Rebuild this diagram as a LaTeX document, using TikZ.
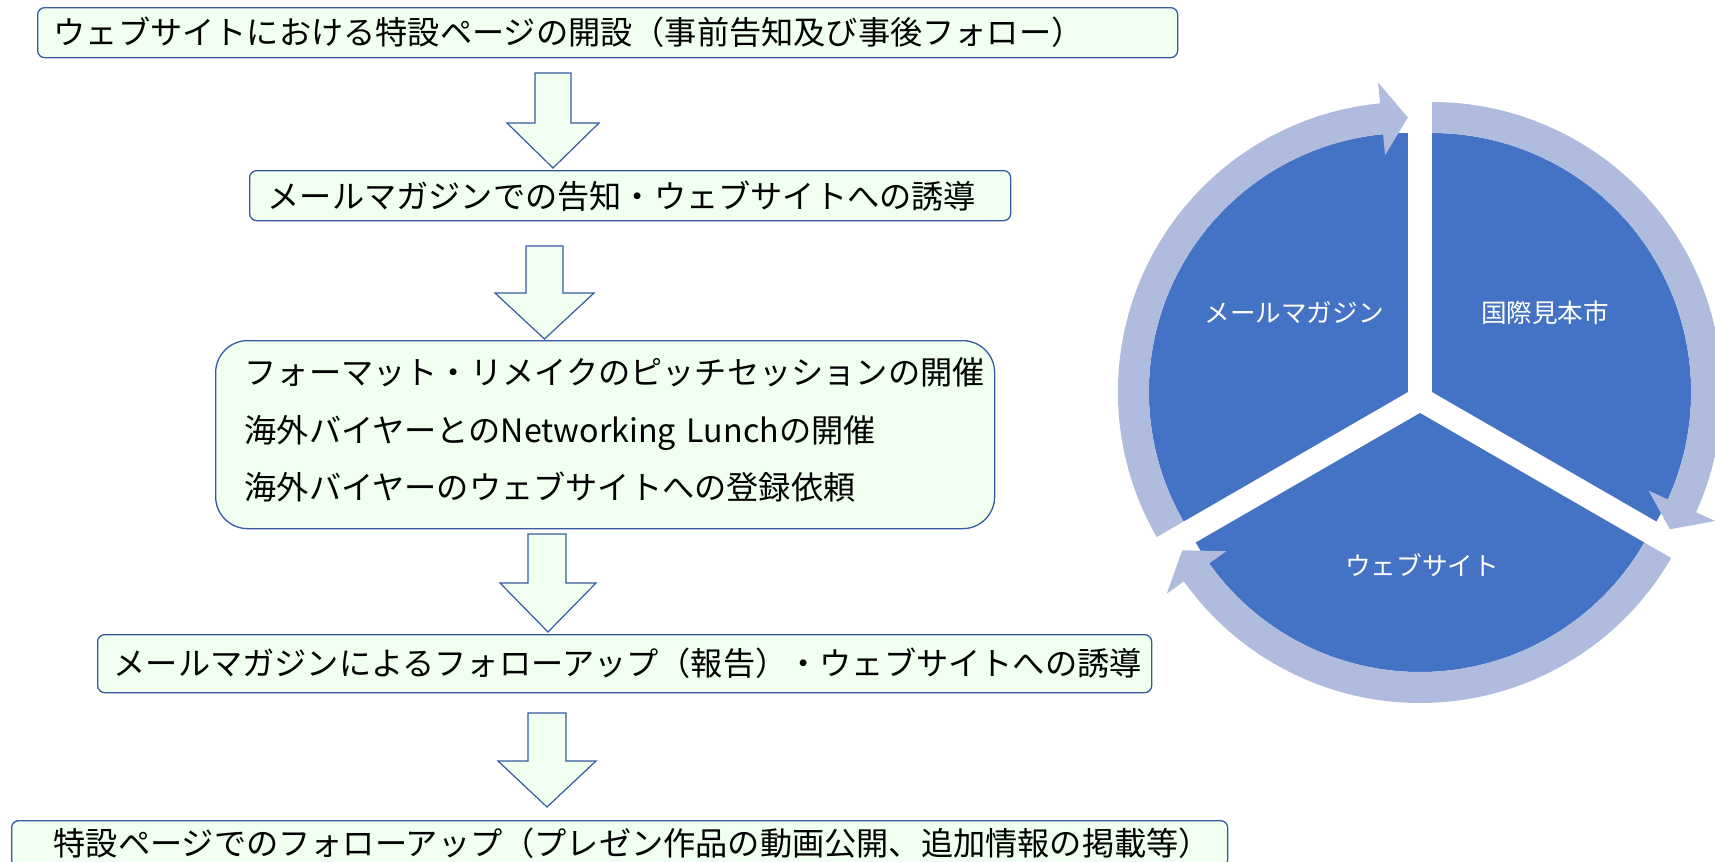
\documentclass[tikz,border=0pt]{standalone}
\usepackage{fontspec}
\setmainfont{Noto Sans CJK JP}
\usetikzlibrary{calc}
\definecolor{boxline}{RGB}{54,90,160}
\definecolor{boxfill}{RGB}{240,255,240}
\definecolor{piecol}{RGB}{68,114,196}
\definecolor{ringcol}{RGB}{176,188,222}
\tikzset{
  flowbox/.style={draw=boxline, fill=boxfill, line width=0.65pt, rounded corners=3.5pt,
    anchor=north west, align=left, inner ysep=0pt, text=black,
    font=\fontsize{16.1pt}{20pt}\selectfont},
  blockarr/.style={draw=boxline, fill=boxfill, line width=0.6pt, line join=miter},
  pielabel/.style={text=white, font=\fontsize{12.8pt}{15pt}\selectfont},
  sector/.style={fill=piecol},
  ringarrow/.style={fill=ringcol},
}
\begin{document}
\begin{tikzpicture}[x=0.5pt,y=0.5pt]
\useasboundingbox (0,0) rectangle (1715,-862);

% ---------- flow boxes ----------
\node[flowbox, minimum width=570pt, minimum height=25pt, inner xsep=8pt, text width=554pt]
  (b1) at (37,-7) {ウェブサイトにおける特設ページの開設（事前告知及び事後フォロー）};
\node[flowbox, minimum width=380.5pt, minimum height=25pt, inner xsep=9pt, text width=362.5pt]
  (b2) at (249,-170) {メールマガジンでの告知・ウェブサイトへの誘導};
\node[flowbox, rounded corners=16pt, minimum width=389.5pt, minimum height=94pt, inner xsep=14.5pt, text width=360.5pt,
  font=\fontsize{16.1pt}{28.75pt}\selectfont]
  (b3) at (215,-340) {フォーマット・リメイクのピッチセッションの開催\\
海外バイヤーとのNetworking Lunchの開催\\
海外バイヤーのウェブサイトへの登録依頼\rule[-6pt]{0pt}{6pt}};
\node[flowbox, minimum width=527pt, minimum height=29pt, inner xsep=8pt, text width=511pt]
  (b4) at (97,-634) {メールマガジンによるフォローアップ（報告）・ウェブサイトへの誘導};
\node[flowbox, minimum width=608pt, minimum height=23pt, inner xsep=21pt, text width=566pt]
  (b5) at (11,-820) {特設ページでのフォローアップ（プレゼン作品の動画公開、追加情報の掲載等）};

% ---------- block arrows ----------
\draw[blockarr] (535,-73) -- (571,-73) -- (571,-123) -- (599,-123) -- (553,-168) -- (507,-123) -- (535,-123) -- cycle;
\draw[blockarr] (526,-246) -- (563,-246) -- (563,-293) -- (594,-293) -- (544.5,-339) -- (495,-293) -- (526,-293) -- cycle;
\draw[blockarr] (528,-534) -- (566,-534) -- (566,-583) -- (596,-583) -- (548,-632) -- (500,-583) -- (528,-583) -- cycle;
\draw[blockarr] (528,-713) -- (566,-713) -- (566,-761) -- (596,-761) -- (547,-807) -- (498,-761) -- (528,-761) -- cycle;

% ---------- segmented cycle ----------
\coordinate (cL) at (1407.9,-392);
\coordinate (cR) at (1432.1,-392);
\coordinate (cB) at (1420,-413);

\fill[sector] (cL) -- ($(cL)+(90:129.5pt)$) arc[start angle=90, end angle=210, radius=129.5pt] -- cycle;
\fill[sector] (cR) -- ($(cR)+(-30:129.5pt)$) arc[start angle=-30, end angle=90, radius=129.5pt] -- cycle;
\fill[sector] (cB) -- ($(cB)+(210:129.5pt)$) arc[start angle=210, end angle=330, radius=129.5pt] -- cycle;

% ring arrows (start s, head back h, tip e)
\fill[ringarrow] ($(cL)+(210:145pt)$) arc[start angle=210, end angle=95.5, radius=145pt]
  -- ($(cL)+(95.5:155.5pt)$) -- ($(cL)+(90:137.25pt)$) -- ($(cL)+(95.5:119pt)$)
  -- ($(cL)+(95.5:129.5pt)$) arc[start angle=95.5, end angle=210, radius=129.5pt] -- cycle;
\fill[ringarrow] ($(cR)+(90:145pt)$) arc[start angle=90, end angle=-24.5, radius=145pt]
  -- ($(cR)+(-24.5:155.5pt)$) -- ($(cR)+(-30:137.25pt)$) -- ($(cR)+(-24.5:119pt)$)
  -- ($(cR)+(-24.5:129.5pt)$) arc[start angle=-24.5, end angle=90, radius=129.5pt] -- cycle;
\fill[ringarrow] ($(cB)+(330:145pt)$) arc[start angle=330, end angle=215.5, radius=145pt]
  -- ($(cB)+(215.5:155.5pt)$) -- ($(cB)+(210:137.25pt)$) -- ($(cB)+(215.5:119pt)$)
  -- ($(cB)+(215.5:129.5pt)$) arc[start angle=215.5, end angle=330, radius=129.5pt] -- cycle;

\node[pielabel] (lmail) at (1294,-313) {メールマガジン};
\node[pielabel] (lfair) at (1545,-313) {国際見本市};
\node[pielabel] (lweb) at (1422,-565) {ウェブサイト};
\end{tikzpicture}
\end{document}
